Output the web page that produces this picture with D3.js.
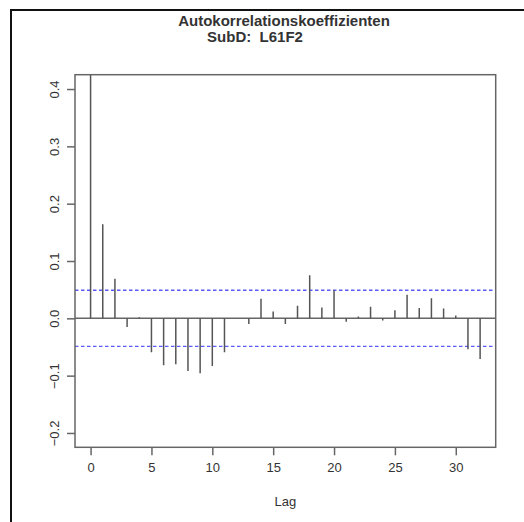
<!DOCTYPE html>
<html>
<head>
<meta charset="utf-8">
<script src="https://cdn.jsdelivr.net/npm/d3@7"></script>
<style>
    body { margin: 0; background: #fff; }
    .acf_chart text { font-family: "Liberation Sans", Arial, sans-serif; fill: #333; }
</style>
</head>
<body>
<div class="acf_chart"></div>
<script>
//<data>-------------------------------------//
var lags = [0, 1, 2, 3, 4, 5, 6, 7, 8, 9, 10, 11, 12, 13, 14, 15, 16,
    17, 18, 19, 20, 21, 22, 23, 24, 25, 26, 27, 28, 29, 30, 31, 32];
var acfValues = [1.0, 0.164, 0.069, -0.015, 0.002, -0.059, -0.082, -0.080, -0.092, -0.096, -0.083, -0.059, 0.000, -0.010, 0.034, 0.012, -0.010,
    0.022, 0.075, 0.019, 0.049, -0.006, 0.003, 0.020, -0.004, 0.014, 0.041, 0.018, 0.035, 0.017, 0.005, -0.054, -0.071];
var confLimits = [0.049, -0.049];
var xTicks = [0, 5, 10, 15, 20, 25, 30];
var yTicks = [-0.2, -0.1, 0.0, 0.1, 0.2, 0.3, 0.4];
var titleLines = ["Autokorrelationskoeffizienten", "SubD:  L61F2"];
var xLabel = "Lag";

//<setMargin>-------------------------------//
var W = 524, H = 522;
var box = { left: 75, right: 495.7, top: 74.7, bottom: 447.3 };

var svg = d3.select(".acf_chart").append("svg")
    .attr("width", W).attr("height", H);

//frame (top + left edge)
svg.append("path")
    .attr("d", "M11,522 L11,10 L524,10")
    .attr("fill", "none").attr("stroke", "#111").attr("stroke-width", 2);

//scales
var x = d3.scaleLinear().domain([-1.28, 33.28]).range([box.left, box.right]);
var y = d3.scaleLinear().domain([-0.225, 0.425]).range([box.bottom, box.top]);

svg.append("clipPath").attr("id", "plotClip")
    .append("rect")
    .attr("x", box.left).attr("y", box.top)
    .attr("width", box.right - box.left).attr("height", box.bottom - box.top);

var plot = svg.append("g").attr("clip-path", "url(#plotClip)");

//zero line
plot.append("line")
    .attr("x1", box.left).attr("x2", box.right)
    .attr("y1", y(0)).attr("y2", y(0))
    .attr("stroke", "#666").attr("stroke-width", 1.5);

//confidence bands
plot.selectAll(".conf")
    .data(confLimits)
    .enter().append("line")
    .attr("class", "conf")
    .attr("x1", box.left).attr("x2", box.right)
    .attr("y1", d => y(d)).attr("y2", d => y(d))
    .attr("stroke", "#5a5aff").attr("stroke-width", 1.3)
    .attr("stroke-dasharray", "3.5,2.5");

//acf spikes
plot.selectAll(".spike")
    .data(lags)
    .enter().append("line")
    .attr("class", "spike")
    .attr("x1", d => x(d)).attr("x2", d => x(d))
    .attr("y1", y(0)).attr("y2", (d, i) => y(acfValues[i]))
    .attr("stroke", "#555").attr("stroke-width", 1.5);

//box
svg.append("rect")
    .attr("x", box.left).attr("y", box.top)
    .attr("width", box.right - box.left).attr("height", box.bottom - box.top)
    .attr("fill", "none").attr("stroke", "#666").attr("stroke-width", 1.5);

//axes-----------------------------------------//
var xAxis = svg.append("g")
    .attr("transform", "translate(0," + box.bottom + ")")
    .call(d3.axisBottom(x).tickValues(xTicks).tickSize(8).tickSizeOuter(0).tickPadding(7));
xAxis.select(".domain").remove();
xAxis.selectAll(".tick line").attr("stroke", "#666").attr("stroke-width", 1.5);
xAxis.selectAll(".tick text")
    .attr("fill", "#333").style("font-size", "13px")
    .style("font-family", "'Liberation Sans', Arial, sans-serif");

var yAxis = svg.append("g")
    .attr("transform", "translate(" + box.left + ",0)")
    .call(d3.axisLeft(y).tickValues(yTicks).tickSize(8).tickSizeOuter(0).tickFormat(d3.format(".1f")));
yAxis.select(".domain").remove();
yAxis.selectAll(".tick line").attr("stroke", "#666").attr("stroke-width", 1.5);
yAxis.selectAll(".tick text")
    .attr("transform", "rotate(-90)")
    .attr("x", 0).attr("y", -16.5).attr("dy", null)
    .style("text-anchor", "middle")
    .attr("fill", "#333").style("font-size", "13px")
    .style("font-family", "'Liberation Sans', Arial, sans-serif");

//labels---------------------------------------//
svg.append("text")
    .attr("x", x(16)).attr("y", 506)
    .attr("text-anchor", "middle")
    .style("font-size", "13px")
    .text(xLabel);

var titleX = [284, 255], titleY = [25.5, 42];
svg.selectAll(".title")
    .data(titleLines)
    .enter().append("text")
    .attr("class", "title")
    .attr("x", (d, i) => titleX[i]).attr("y", (d, i) => titleY[i])
    .attr("text-anchor", "middle")
    .style("white-space", "pre")
    .style("font-size", "15px").style("font-weight", "bold")
    .attr("fill", "#000")
    .text(d => d);
</script>
</body>
</html>
